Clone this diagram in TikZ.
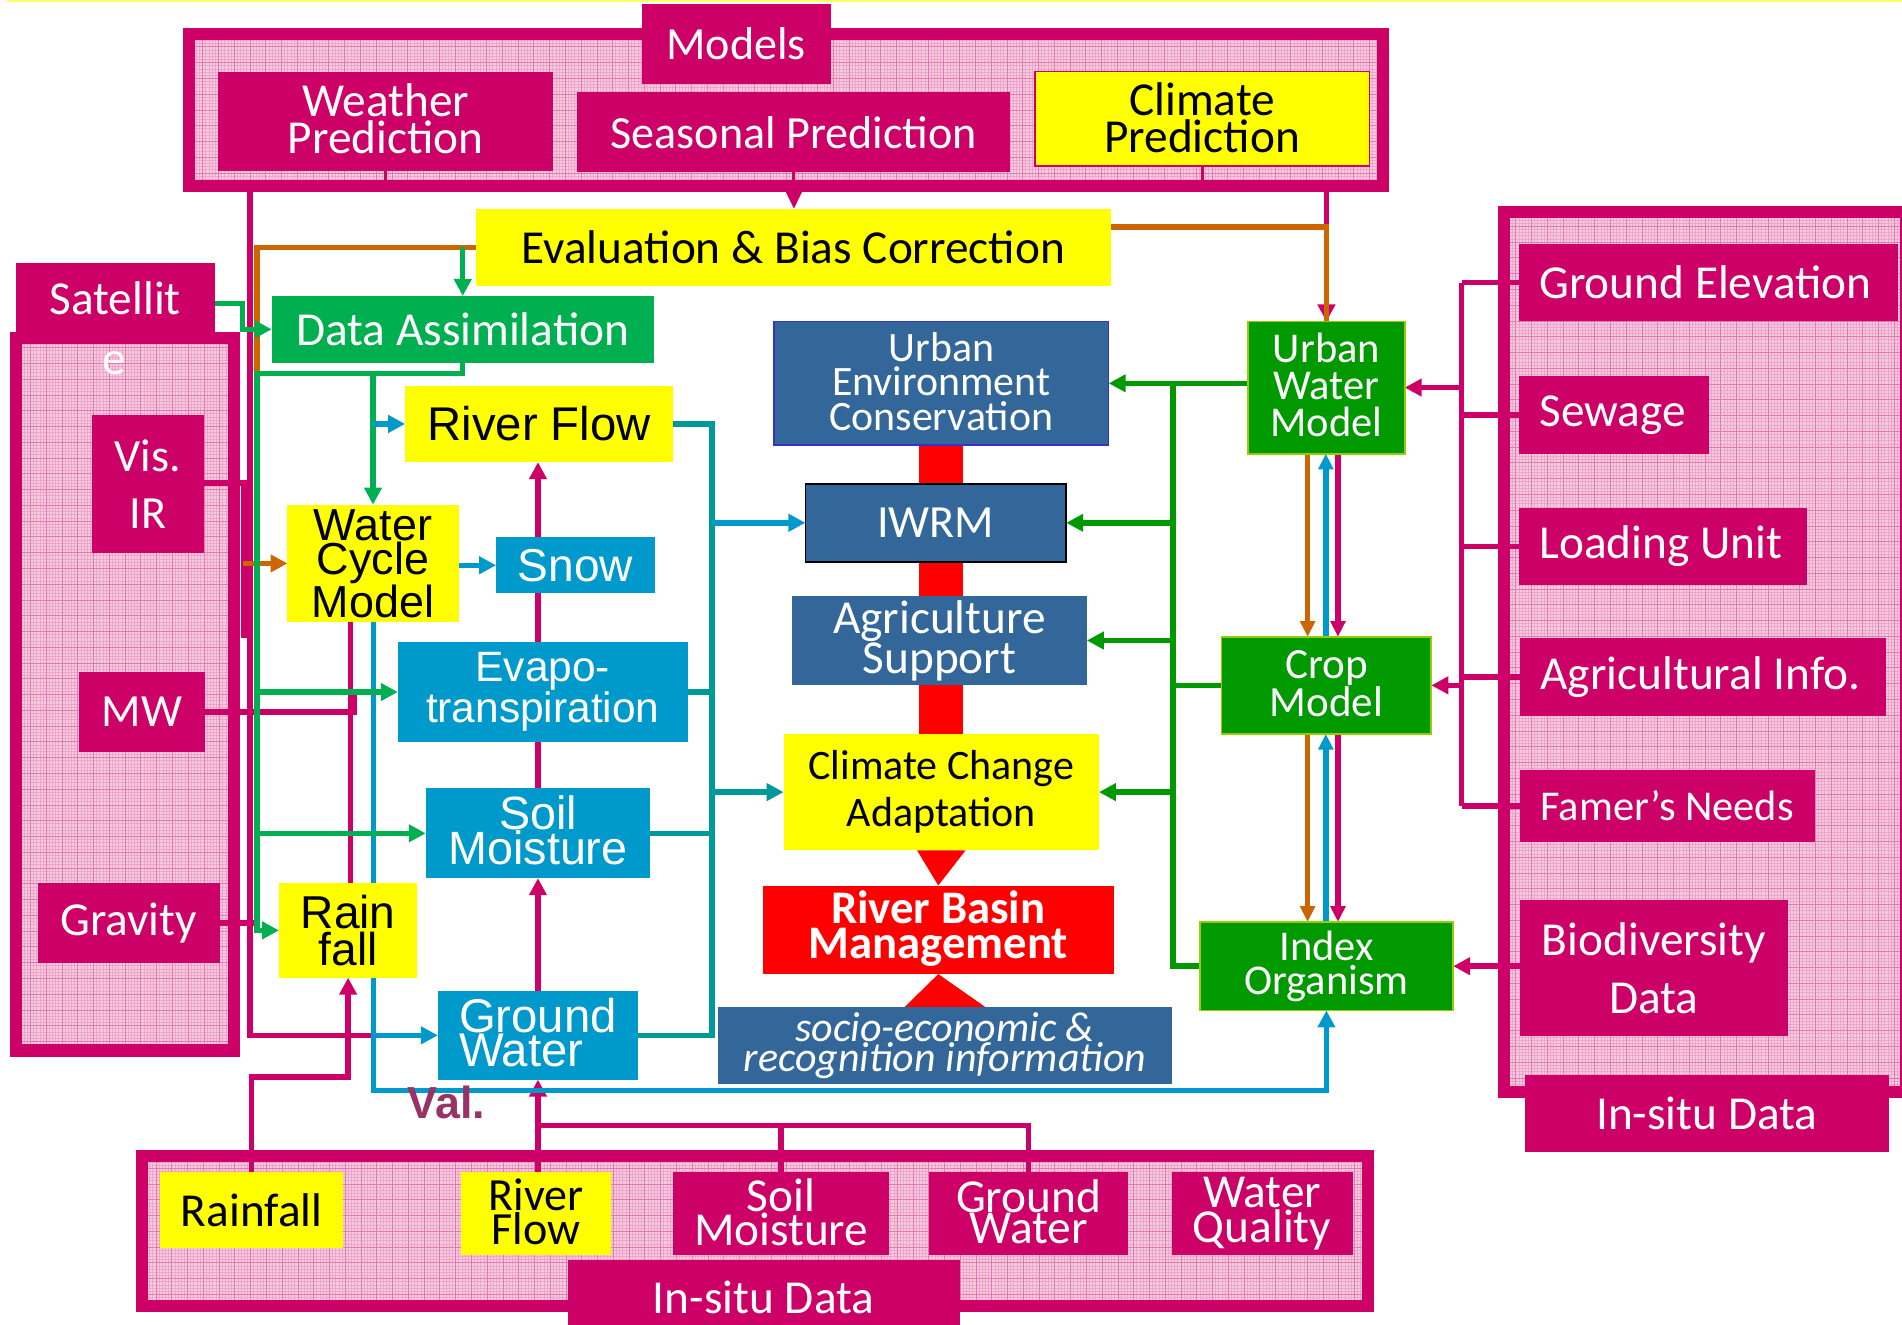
\documentclass[tikz,border=0pt]{standalone}
\usepackage{fontspec}
\setmainfont{Carlito}
\newfontfamily\arialfam{Liberation Sans}
\usetikzlibrary{arrows.meta}

\definecolor{pinkc}{HTML}{CC0066}
\definecolor{hatchc}{HTML}{F6CADF}
\definecolor{finegridc}{HTML}{EDA6C9}
\definecolor{gridc}{HTML}{E07BB0}
\definecolor{yelc}{HTML}{FFFF00}
\definecolor{dagreen}{HTML}{00B050}
\definecolor{modgreen}{HTML}{009900}
\definecolor{modedge}{HTML}{99CC00}
\definecolor{chainblue}{HTML}{0099CC}
\definecolor{mgmtblue}{HTML}{336699}
\definecolor{envedge}{HTML}{3333CC}
\definecolor{redc}{HTML}{FF0000}
\definecolor{orangec}{HTML}{CC6600}
\definecolor{tealc}{HTML}{009999}
\definecolor{valc}{HTML}{993366}
\definecolor{topline}{HTML}{FFFF66}

\newcommand\fsz[2]{\fontsize{#1pt}{#2pt}\selectfont}
\newcommand\lbox[2]{\makebox[#1pt][l]{#2}}

\pgfdeclarelayer{frames}
\pgfdeclarelayer{lines}
\pgfsetlayers{frames,lines,main}

\begin{document}
\begin{tikzpicture}[x=1pt,y=-1pt,
  geom/.style n args={4}{anchor=north west, at={(#1,#2)},
    minimum width={(#3-#1)*1pt}, minimum height={(#4-#2)*1pt}},
  box/.style={inner sep=0pt, outer sep=0pt, align=center},
  pinkbox/.style={box, fill=pinkc, text=white},
  yelbox/.style={box, fill=yelc, text=black},
  chainbox/.style={box, fill=chainblue, text=white},
  mgmtbox/.style={box, fill=mgmtblue, text=white},
  modelbox/.style={box, fill=modgreen, draw=modedge, line width=1.5pt, text=white},
  leftbox/.style={pinkbox, inner xsep=17pt},
  framebox/.style={box, draw=pinkc, line width=10pt, fill=hatchc,
    path picture={
      \draw[finegridc, line width=0.45pt, step=2.6pt]
        (path picture bounding box.south west) grid (path picture bounding box.north east);
      \draw[gridc, line width=0.45pt, step=13pt]
        (path picture bounding box.south west) grid (path picture bounding box.north east);}},
  ln/.style={line width=4.5pt},
  pinkln/.style={ln, draw=pinkc},
  greenL/.style={ln, draw=dagreen},
  greenR/.style={ln, draw=modgreen},
  blueln/.style={ln, draw=chainblue},
  tealln/.style={ln, draw=tealc},
  orangeln/.style={ln, draw=orangec},
  thinpink/.style={line width=2.5pt, draw=pinkc},
  tipS/.style={-{Triangle[length=13pt,width=12pt]}},
  >={Triangle[length=14pt,width=14pt]},
]
\useasboundingbox (0,0) rectangle (1568,1092);
\fill[topline] (6,0) rectangle (1568,2);

% ---------- hatched group frames ----------
\begin{pgfonlayer}{frames}
\node[framebox, geom={156}{28}{1140}{153}] (modelsF) {};
\node[framebox, geom={13}{279}{193}{866}] (satF) {};
\node[framebox, geom={1240}{175}{1571}{900}] (insituRF) {};
\node[framebox, geom={117}{953}{1128}{1077}] (insituBF) {};
\end{pgfonlayer}

% ---------- models ----------
\node[pinkbox, geom={529}{3}{685}{69}, font={\fsz{38}{38}}] (models) {Models};
\node[pinkbox, geom={180}{59}{456}{141}, font={\fsz{39}{30}}] (weather) {Weather\\Prediction\rule{0pt}{1pt}\vspace*{4pt}};
\node[pinkbox, geom={476}{76}{833}{142}, font={\fsz{38}{38}}] (seasonal) {Seasonal Prediction};
\node[yelbox, draw=pinkc, line width=1.5pt, geom={853}{59}{1129}{137}, font={\fsz{39}{30}}] (climatep) {Climate\\Prediction\vspace*{2pt}};
\node[yelbox, geom={392}{172}{916}{236}, font={\fsz{39}{39}}] (eval) {Evaluation \& Bias Correction};
\node[box, fill=dagreen, text=white, geom={224}{244}{539}{299}, font={\fsz{39}{39}}] (da) {Data Assimilation};

% ---------- satellite ----------
\node[pinkbox, geom={13}{217}{177}{275}, font={\fsz{39}{39}}] (sat) {\raisebox{-5pt}{Satellit}};
\node[text=white, inner sep=0pt, font={\fsz{39}{39}}] (satE) at (94,299) {e};
\node[pinkbox, geom={76}{342}{168}{456}, font={\fsz{38}{47}}] (visir) {Vis.\\IR};
\node[pinkbox, geom={65}{554}{169}{620}, font={\fsz{38}{38}}] (mw) {MW};
\node[pinkbox, geom={31}{728}{181}{794}, font={\fsz{39}{39}}] (grav) {Gravity};

% ---------- water cycle chain ----------
\node[yelbox, geom={334}{318}{555}{381}, font={\arialfam\fsz{39}{39}}] (rf) {River Flow};
\node[yelbox, geom={237}{416}{378}{513}, font={\arialfam\fsz{37}{26}}] (wcm) {Water\\Cycle\\Model};
\node[chainbox, geom={409}{443}{540}{489}, font={\arialfam\fsz{38}{38}}] (snow) {Snow};
\node[chainbox, geom={328}{529}{567}{612}, font={\arialfam\fsz{35}{32}}] (evapo) {Evapo-\\transpiration};
\node[chainbox, geom={351}{650}{536}{724}, font={\arialfam\fsz{38.5}{28}}] (sm) {Soil\\Moisture\vspace*{5pt}};
\node[yelbox, geom={230}{728}{344}{806}, font={\arialfam\fsz{38}{30}}] (rain) {Rain\\fall};
\node[chainbox, align=left, geom={361}{817}{526}{890}, font={\arialfam\fsz{39}{28}}] (gw) {Ground\\Water\vspace*{4pt}};
\node[text=valc, inner sep=0pt, font={\arialfam\bfseries\fsz{37}{37}}] (val) at (368,909) {Val.};

% ---------- management column ----------
\node[mgmtbox, draw=envedge, line width=1.2pt, geom={638}{265}{914}{367}, font={\fsz{34.5}{28.5}}] (urbenv) {Urban\\Environment\\Conservation\vspace*{3pt}};
\node[mgmtbox, draw=black, line width=1.5pt, geom={664}{399}{879}{463}, font={\fsz{38}{38}}] (iwrm) {IWRM};
\node[mgmtbox, geom={653}{491}{896}{565}, font={\fsz{39}{29}}] (agri) {Agriculture\\Support};
\node[yelbox, geom={646}{605}{906}{701}, font={\fsz{34.6}{39}}] (cc) {Climate Change\\Adaptation};
\node[box, fill=redc, text=white, geom={629}{730}{918}{803}, font={\bfseries\fsz{38.5}{29}}] (rbm) {River Basin\\Management\vspace*{2pt}};
\node[mgmtbox, geom={592}{830}{966}{894}, font={\itshape\fsz{34.6}{25}}] (socio) {socio-economic \&\\recognition information};

% ---------- impact models ----------
\node[modelbox, geom={1029}{265}{1158}{374}, font={\fsz{35}{30.5}}] (uwm) {Urban\\Water\\Model\vspace*{4pt}};
\node[modelbox, geom={1007}{525}{1180}{605}, font={\fsz{35.5}{30}}] (crop) {Crop\\Model\vspace*{2pt}};
\node[modelbox, geom={989}{760}{1198}{833}, font={\fsz{35}{28}}] (index) {Index\\Organism};

% ---------- in-situ data, right ----------
\node[leftbox, geom={1252}{201}{1565}{265}, font={\fsz{39}{39}}] (ge) {\lbox{279}{Ground Elevation}};
\node[leftbox, geom={1252}{310}{1409}{374}, font={\fsz{39}{39}}] (sewage) {\lbox{123}{Sewage}};
\node[leftbox, geom={1252}{419}{1490}{482}, font={\fsz{39}{39}}] (loading) {\lbox{204}{Loading Unit}};
\node[leftbox, geom={1253}{526}{1555}{590}, font={\fsz{39}{39}}] (agrinfo) {\lbox{268}{Agricultural Info.}};
\node[leftbox, geom={1253}{635}{1496}{694}, font={\fsz{35}{35}}] (famer) {\lbox{209}{Famer’s Needs}};
\node[pinkbox, geom={1253}{742}{1474}{854}, font={\fsz{39}{48}}] (bio) {Biodiversity\\Data};
\node[pinkbox, geom={1257}{886}{1557}{950}, font={\fsz{39}{39}}] (insituR) {In-situ Data};

% ---------- in-situ data, bottom ----------
\node[yelbox, geom={132}{966}{283}{1029}, font={\fsz{39}{39}}] (rfall) {Rainfall};
\node[yelbox, geom={380}{966}{504}{1035}, font={\fsz{38}{26}}] (rfi) {River\\Flow\vspace*{3pt}};
\node[pinkbox, geom={555}{966}{733}{1035}, font={\fsz{39}{26}}] (smi) {Soil\\Moisture\vspace*{3pt}};
\node[pinkbox, geom={766}{966}{930}{1035}, font={\fsz{39}{26}}] (gwi) {Ground\\Water\vspace*{3pt}};
\node[pinkbox, geom={966}{966}{1115}{1035}, font={\fsz{39}{26}}] (wqi) {Water\\Quality};
\node[pinkbox, geom={468}{1039}{791}{1100}, font={\fsz{39}{39}}] (insituB) {In-situ Data};

% ---------- junction points ----------
\coordinate (gtr) at (212,0);
\coordinate (btr) at (308,0);
\coordinate (wpx) at (206,0);
\coordinate (prx) at (289,0);
\coordinate (satbend) at (200,0);
\coordinate (tealbus) at (587,0);
\coordinate (gbus) at (967,0);
\coordinate (pbus) at (1205,0);
\coordinate (triO) at (1078,0);
\coordinate (triB) at (1093,0);
\coordinate (triP) at (1103,0);
\coordinate (visEnd) at (201,526);
\coordinate (mwEnd) at (292,571);
\coordinate (gravEnd) at (214,761);
\coordinate (orangeTail) at (200,464.5);
\coordinate (evalRow) at (0,187);
\coordinate (daRow) at (0,308);
\coordinate (blueRow) at (0,899);
\coordinate (rainRow) at (0,888);
\coordinate (insituRow) at (0,928);
\coordinate (satRow) at (0,250);
\coordinate (visRow) at (0,398);

\begin{pgfonlayer}{lines}
% red spine of the management column
\fill[redc] ([xshift=-18pt]urbenv.south) rectangle ([xshift=18pt]cc.north);
\fill[redc] ([xshift=-20pt]cc.south) -- ([xshift=20pt]cc.south) -- (rbm.north) -- cycle;
\fill[redc] ([xshift=-33pt]socio.north) -- ([xshift=33pt]socio.north) -- (rbm.south) -- cycle;

% model outputs
\draw[thinpink] (weather.south) -- (weather.south |- modelsF.south);
\draw[thinpink] (climatep.south) -- (climatep.south |- modelsF.south);
\draw[thinpink, -{Triangle[length=14pt,width=13pt]}] (seasonal.south) -- (seasonal.south |- eval.north);
\draw[pinkln,->] (uwm.north |- modelsF.south) -- (uwm.north);

% satellite and in-situ feeds (pink)
\draw[pinkln] (wpx |- modelsF.south) |- (btr |- gw.west);
\draw[pinkln] (visir.east |- visRow) -| (visEnd);
\draw[pinkln] (mw.east) -| (mwEnd);
\draw[pinkln] (prx |- wcm.south) -- (prx |- rain.north);
\draw[pinkln] (grav.east) -- (gravEnd);
\draw[pinkln,->] (rfall.north) |- (rain.south |- rainRow) -- (rain.south);
\draw[pinkln,->] (gw.south |- rfi.north) -- (gw.south);
\draw[pinkln,->] (gw.north) -- (gw.north |- sm.south);
\draw[pinkln,->] (sm.north) -- (sm.north |- rf.south);
\draw[pinkln] (smi.north) -- (smi.north |- insituRow);
\draw[pinkln] (gwi.north) |- (gw.south |- insituRow);

% water cycle outputs (teal)
\draw[tealln] (rf.east) -| (tealbus |- gw.east) -- (gw.east);
\draw[tealln] (evapo.east) -- (evapo.east -| tealbus);
\draw[tealln] (sm.east) -- (sm.east -| tealbus);
\draw[blueln,->] (tealbus |- iwrm.west) -- (iwrm.west);
\draw[tealln,->] (tealbus |- cc.west) -- (cc.west);

% water cycle model links (blue)
\draw[blueln,->] (wcm.east |- snow.west) -- (snow.west);
\draw[blueln,->] (btr |- wcm.south) |- (index.south |- blueRow) -- (index.south);
\draw[blueln,->] (btr |- gw.west) -- (gw.west);

% bias correction (orange)
\draw[orangeln] (eval.west) -| (gtr |- wcm.west);
\draw[orangeln,->] (orangeTail) -- (wcm.west);
\draw[orangeln] (eval.east |- evalRow) -| (uwm.north);

% data assimilation (green)
\draw[greenL,->] (da.north |- eval.west) -- (da.north);
\draw[greenL,->] (sat.east |- satRow) -| (satbend |- da.west) -- (da.west);
\draw[greenL,->] (da.south) |- (gtr |- daRow) -- (gtr |- rain.west) -- (rain.west);
\draw[greenL,->] (gtr |- evapo.west) -- (evapo.west);
\draw[greenL,->] (gtr |- sm.west) -- (sm.west);
\draw[greenL,->] (wcm.north |- daRow) -- (wcm.north);
\draw[blueln,->] (wcm.north |- rf.west) -- (rf.west);

% impact models to management (green)
\draw[greenR,->] (uwm.west |- urbenv.east) -- (urbenv.east);
\draw[greenR] (gbus |- urbenv.east) |- (index.west);
\draw[greenR,->] (gbus |- iwrm.east) -- (iwrm.east);
\draw[greenR,->] (gbus |- agri.east) -- (agri.east);
\draw[greenR,->] (gbus |- cc.east) -- (cc.east);
\draw[greenR] (crop.west) -- (crop.west -| gbus);

% coupling between impact models
\draw[orangeln,tipS] (triO |- uwm.south) -- (triO |- crop.north);
\draw[blueln,tipS] (triB |- crop.north) -- (triB |- uwm.south);
\draw[pinkln,tipS] (triP |- uwm.south) -- (triP |- crop.north);
\draw[orangeln,tipS] (triO |- crop.south) -- (triO |- index.north);
\draw[blueln,tipS] (triB |- index.north) -- (triB |- crop.south);
\draw[pinkln,tipS] (triP |- crop.south) -- (triP |- index.north);

% in-situ data to impact models (pink)
\draw[pinkln] (pbus |- ge.west) -- (pbus |- famer.west);
\foreach \bn in {ge,sewage,loading,agrinfo,famer}
  \draw[pinkln] (\bn.west) -- (\bn.west -| pbus);
\draw[pinkln,->] (pbus |- uwm.east) -- (uwm.east);
\draw[pinkln,->] (pbus |- crop.east) -- (crop.east);
\draw[pinkln,->] (bio.west |- index.east) -- (index.east);
\end{pgfonlayer}
\end{tikzpicture}
\end{document}
